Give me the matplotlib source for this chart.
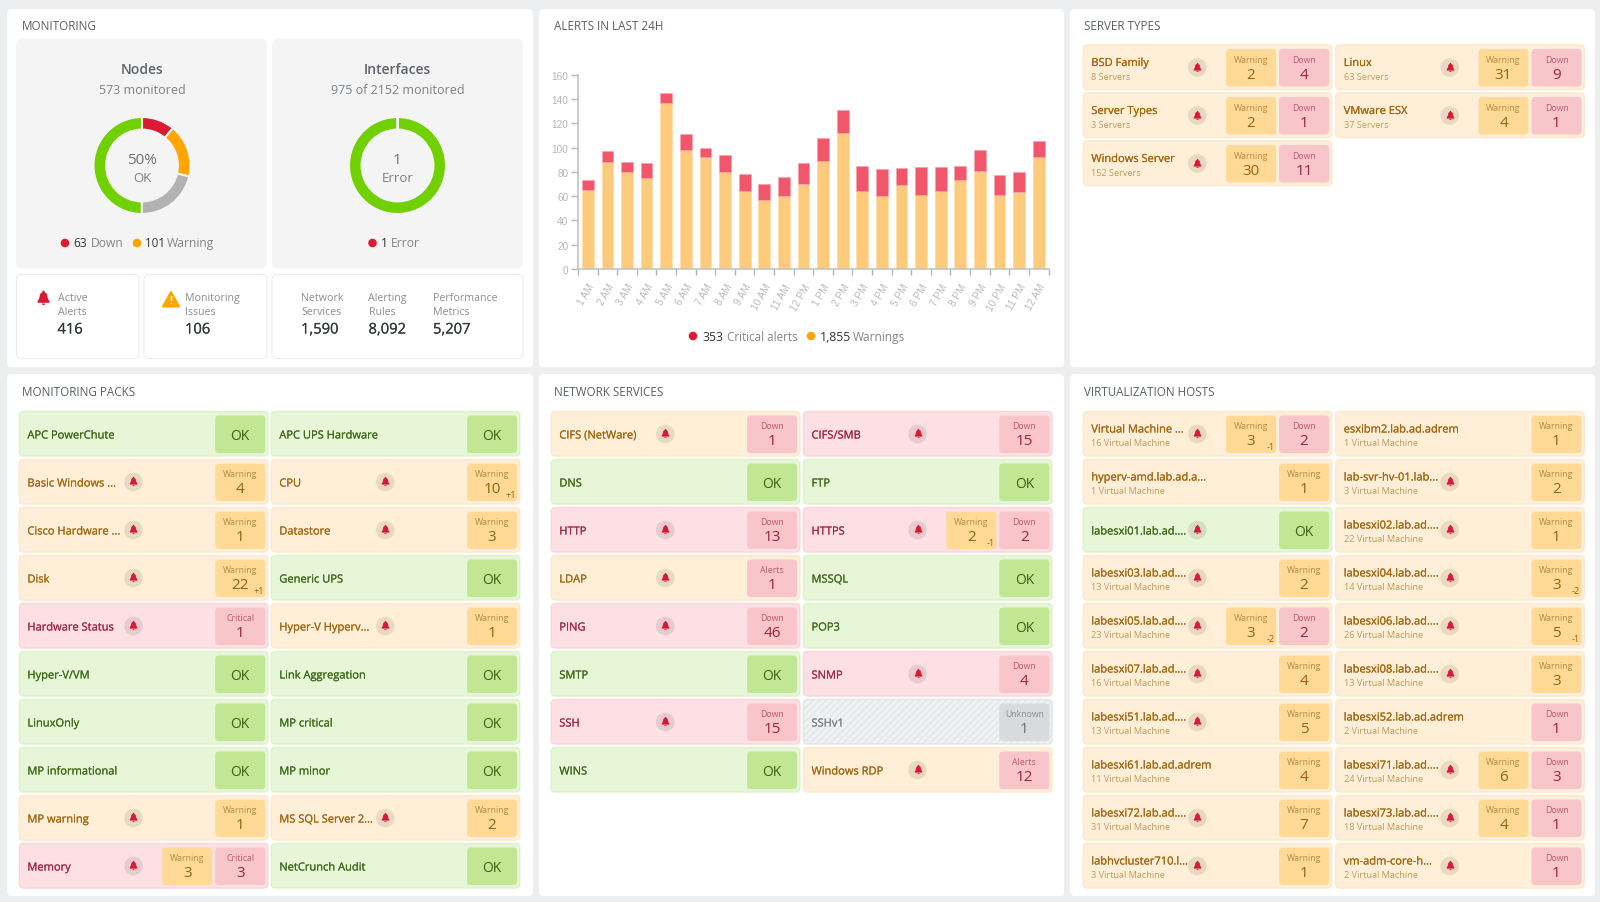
import numpy as np
import matplotlib
matplotlib.use("Agg")
import matplotlib.pyplot as plt
import matplotlib.patheffects as pe
from matplotlib.patches import FancyBboxPatch, Circle, Polygon
from matplotlib.path import Path

plt.rcParams['font.family'] = ['Open Sans', 'DejaVu Sans']
plt.rcParams['hatch.linewidth'] = 0.8

W, H = 1600, 903

# dati grafico allarmi
HOURS = ["1 AM", "2 AM", "3 AM", "4 AM", "5 AM", "6 AM", "7 AM", "8 AM", "9 AM", "10 AM", "11 AM", "12 PM",
         "1 PM", "2 PM", "3 PM", "4 PM", "5 PM", "6 PM", "7 PM", "8 PM", "9 PM", "10 PM", "11 PM", "12 AM"]
WARNINGS = [65, 88, 80, 75, 137, 98, 92, 80, 64, 57, 60, 70, 89, 112, 64, 60, 69, 61, 64, 73, 81, 61, 63, 92]
CRITICAL = [8, 9, 8, 12, 8, 13, 8, 14, 14, 13, 16, 17, 19, 19, 21, 22, 14, 23, 20, 12, 17, 16, 17, 13]

NODE_VALUES = [63, 101, 123, 286]
INTERFACE_VALUES = [1, 974]

SERVER_NAMES = ["BSD Family", "Linux", "Server Types", "VMware ESX", "Windows Server"]
SERVER_COUNTS = ["8 Servers", "63 Servers", "3 Servers", "37 Servers", "152 Servers"]
SERVER_BADGES = [[("Warning", 2, ""), ("Down", 4, "")], [("Warning", 31, ""), ("Down", 9, "")],
                 [("Warning", 2, ""), ("Down", 1, "")], [("Warning", 4, ""), ("Down", 1, "")],
                 [("Warning", 30, ""), ("Down", 11, "")]]

PACK_NAMES = ["APC PowerChute", "APC UPS Hardware", "Basic Windows ...", "CPU", "Cisco Hardware ...", "Datastore",
              "Disk", "Generic UPS", "Hardware Status", "Hyper-V Hyperv...", "Hyper-V/VM", "Link Aggregation",
              "LinuxOnly", "MP critical", "MP informational", "MP minor", "MP warning", "MS SQL Server 2...",
              "Memory", "NetCrunch Audit"]
PACK_STATES = ["ok", "ok", "warn", "warn", "warn", "warn", "warn", "ok", "crit", "warn",
               "ok", "ok", "ok", "ok", "ok", "ok", "warn", "warn", "crit", "ok"]
PACK_BADGES = [[("OK", "", "")], [("OK", "", "")], [("Warning", 4, "")], [("Warning", 10, "+1")],
               [("Warning", 1, "")], [("Warning", 3, "")], [("Warning", 22, "+1")], [("OK", "", "")],
               [("Critical", 1, "")], [("Warning", 1, "")], [("OK", "", "")], [("OK", "", "")],
               [("OK", "", "")], [("OK", "", "")], [("OK", "", "")], [("OK", "", "")],
               [("Warning", 1, "")], [("Warning", 2, "")], [("Warning", 3, ""), ("Critical", 3, "")], [("OK", "", "")]]

NET_NAMES = ["CIFS (NetWare)", "CIFS/SMB", "DNS", "FTP", "HTTP", "HTTPS", "LDAP", "MSSQL", "PING", "POP3",
             "SMTP", "SNMP", "SSH", "SSHv1", "WINS", "Windows RDP"]
NET_STATES = ["warn", "crit", "ok", "ok", "crit", "crit", "warn", "ok", "crit", "ok",
              "ok", "crit", "crit", "unknown", "ok", "warn"]
NET_BADGES = [[("Down", 1, "")], [("Down", 15, "")], [("OK", "", "")], [("OK", "", "")], [("Down", 13, "")],
              [("Warning", 2, "-1"), ("Down", 2, "")], [("Alerts", 1, "")], [("OK", "", "")], [("Down", 46, "")],
              [("OK", "", "")], [("OK", "", "")], [("Down", 4, "")], [("Down", 15, "")], [("Unknown", 1, "")],
              [("OK", "", "")], [("Alerts", 12, "")]]

HOST_NAMES = ["Virtual Machine ...", "esxibm2.lab.ad.adrem", "hyperv-amd.lab.ad.a...", "lab-svr-hv-01.lab...",
              "labesxi01.lab.ad....", "labesxi02.lab.ad....", "labesxi03.lab.ad....", "labesxi04.lab.ad....",
              "labesxi05.lab.ad....", "labesxi06.lab.ad....", "labesxi07.lab.ad....", "labesxi08.lab.ad....",
              "labesxi51.lab.ad....", "labesxi52.lab.ad.adrem", "labesxi61.lab.ad.adrem", "labesxi71.lab.ad....",
              "labesxi72.lab.ad....", "labesxi73.lab.ad....", "labhvcluster710.l...", "vm-adm-core-h..."]
HOST_VMS = [16, 1, 1, 3, None, 22, 13, 14, 23, 26, 16, 13, 13, 2, 11, 24, 31, 18, 3, 2]
HOST_BELLS = [True, False, False, True, True, True, True, True, True, True,
              True, True, True, False, False, True, True, True, True, True]
HOST_BADGES = [[("Warning", 3, "-1"), ("Down", 2, "")], [("Warning", 1, "")], [("Warning", 1, "")], [("Warning", 2, "")],
               [("OK", "", "")], [("Warning", 1, "")], [("Warning", 2, "")], [("Warning", 3, "-2")],
               [("Warning", 3, "-2"), ("Down", 2, "")], [("Warning", 5, "-1")], [("Warning", 4, "")], [("Warning", 3, "")],
               [("Warning", 5, "")], [("Down", 1, "")], [("Warning", 4, "")], [("Warning", 6, ""), ("Down", 3, "")],
               [("Warning", 7, "")], [("Warning", 4, ""), ("Down", 1, "")], [("Warning", 1, "")], [("Down", 1, "")]]

# colori
RED = "#dc1832"
ORANGE = "#ffa500"
GREEN = "#70d000"
CARD_COLORS = {"ok": ("#e8f6d8", "#dff1c9", "#3f6a1b"),
               "warn": ("#ffefd9", "#fde8cd", "#a3670f"),
               "crit": ("#fde0e4", "#fad6db", "#a22a44"),
               "unknown": ("#f0f1f3", "#e2e4e7", "#808285")}
BADGE_COLORS = {"OK": ("#c1e795", "#3c5f14", "#3c5f14"),
                "Warning": ("#ffda96", "#b88a3f", "#9a620e"),
                "Down": ("#f8c5cb", "#c05a6e", "#99263e"),
                "Critical": ("#f8c5cb", "#c05a6e", "#99263e"),
                "Alerts": ("#f8c5cb", "#c05a6e", "#99263e"),
                "Unknown": ("#d9dadb", "#8b8d8f", "#6b6d70")}
SUB_COLOR = "#bf9a5e"

bell_verts = [(0, 0.95), (0.12, 0.85), (0.15, 0.75), (0.36, 0.58), (0.42, 0.2), (0.62, -0.2), (0.62, -0.35),
              (-0.62, -0.35), (-0.62, -0.2), (-0.42, 0.2), (-0.36, 0.58), (-0.15, 0.75), (-0.12, 0.85), (0, 0.95),
              (-0.18, -0.42), (0.18, -0.42), (0.1, -0.58), (-0.1, -0.58), (-0.18, -0.42)]
bell_codes = [Path.MOVETO] + [Path.LINETO] * 12 + [Path.CLOSEPOLY] + [Path.MOVETO] + [Path.LINETO] * 3 + [Path.CLOSEPOLY]
BELL = Path(bell_verts, bell_codes)

fig = plt.figure(figsize=(16, 9.03), dpi=100, facecolor="#eceef0")
ax = fig.add_axes([0, 0, 1, 1])
ax.set_xlim(0, W)
ax.set_ylim(H, 0)
ax.axis("off")


def box(x0, y0, x1, y1, face, edge="none", radius=4, lw=1, **kw):
    ax.add_patch(FancyBboxPatch((x0, y0), x1 - x0, y1 - y0, boxstyle=f"round,pad=0,rounding_size={radius}",
                                fc=face, ec=edge, lw=lw, **kw))


def txt(x, y, s, size=8, color="#555555", ha="left", weight="normal", thick=0):
    # va center mette il testo un po' troppo in alto
    t = ax.text(x, y + 1.5, s, fontsize=size, color=color, ha=ha, va="center", fontweight=weight)
    if thick:
        # peso medio non disponibile, lo simulo con un tratto sottile
        t.set_path_effects([pe.withStroke(linewidth=thick, foreground=color)])


def inset(x0, y0, x1, y1):
    return fig.add_axes([x0 / W, 1 - y1 / H, (x1 - x0) / W, (y1 - y0) / H])


def draw_bell(x, y, size=69):
    ax.scatter([x], [y], marker=BELL, s=size, color=RED, linewidths=0, zorder=5)


def draw_badges(x1, y0, y1, badges):
    bw = 50
    for i, (label, value, delta) in enumerate(reversed(badges)):
        right = x1 - i * (bw + 3)
        left = right - bw
        face, lab_col, val_col = BADGE_COLORS[label]
        box(left, y0, right, y1, face, radius=3.5)
        cx = (left + right) / 2
        if label == "OK":
            txt(cx, (y0 + y1) / 2 - 0.5, "OK", 10, val_col, "center")
            continue
        txt(cx, y0 + 9, label, 6.3, lab_col, "center")
        txt(cx, y0 + 24, str(value), 11, val_col, "center")
        if delta:
            txt(right - 1.5, y0 + 29.5, delta, 6.6, val_col, "right")


def draw_tile(x, y, name, state, badges, sub=None, bell=True):
    w, h = 248.5, 44.5
    face, edge, col = CARD_COLORS[state]
    box(x, y, x + w, y + h, face, edge, radius=4)
    if state == "unknown":
        box(x, y, x + w, y + h, "none", "#e3e5e8", radius=4, lw=0, hatch="/////")
    draw_badges(x + w - 2.7, y + 4, y + 41.5, badges)
    if sub:
        txt(x + 8, y + 17, name, 8, col, thick=0.12)
        txt(x + 8, y + 30, sub, 6.6, SUB_COLOR)
    else:
        txt(x + 8, y + 23, name, 8, col, thick=0.12)
    if bell:
        ax.add_patch(Circle((x + 114, y + 22.5), 9.3, fc="#000000", ec="none", alpha=0.09))
        draw_bell(x + 114, y + 22.5)


# pannelli bianchi
for x0, y0, x1, y1, title in [(7, 10, 533, 368.3, "MONITORING"), (539, 10, 1064, 368.3, "ALERTS IN LAST 24H"),
                              (1070, 10, 1595, 368.3, "SERVER TYPES"), (7, 375, 533, 897, "MONITORING PACKS"),
                              (539, 375, 1064, 897, "NETWORK SERVICES"), (1070, 375, 1595, 897, "VIRTUALIZATION HOSTS")]:
    box(x0, y0, x1, y1, "white", radius=5)
    txt(x0 + 14.5, y0 + 15 + (y0 > 100), title, 8.35, "#5a5f64")

# Monitoring
box(16, 39.5, 267, 269.5, "#f4f4f4", radius=6)
box(272, 39.5, 523, 269.5, "#f4f4f4", radius=6)
for x0, x1 in [(16.5, 139), (144, 267), (272, 523)]:
    box(x0, 275.5, x1, 359.5, "white", "#ececec", radius=5, lw=0.8)

for cx, head, sub, big, small in [(142, "Nodes", "573 monitored", "50%", "OK"),
                                  (397.5, "Interfaces", "975 of 2152 monitored", "1", "Error")]:
    txt(cx, 68.5, head, 10, "#5d6369", "center", "semibold")
    txt(cx, 89, sub, 9, "#7b8187", "center")
    txt(cx, 159.5, big, 11, "#6d7278", "center")
    txt(cx, 176.5, small, 9.5, "#7b8187", "center")

ax_nodes = inset(142 - 48.5, 166.5 - 48.5, 142 + 48.5, 166.5 + 48.5)
ax_nodes.pie(NODE_VALUES, colors=[RED, ORANGE, "#b2b2b2", GREEN], startangle=90, counterclock=False,
             radius=1, wedgeprops=dict(width=0.26, edgecolor="#f4f4f4", linewidth=1.5))
ax_nodes.set_xlim(-1, 1)
ax_nodes.set_ylim(-1, 1)

ax_ifaces = inset(397.5 - 48.5, 166.5 - 48.5, 397.5 + 48.5, 166.5 + 48.5)
ax_ifaces.pie(INTERFACE_VALUES, colors=[RED, GREEN], startangle=90, counterclock=False,
              radius=1, wedgeprops=dict(width=0.26, edgecolor="#f4f4f4", linewidth=1.5))
ax_ifaces.set_xlim(-1, 1)
ax_ifaces.set_ylim(-1, 1)

ax.scatter([65, 137, 372.5], [244, 244, 244], s=38, c=[RED, ORANGE, RED], linewidths=0)
txt(73.5, 242.5, "63", 8.7, "#333333")
txt(90.5, 242.5, "Down", 8.7, "#80858a")
txt(145.5, 242.5, "101", 8.4, "#333333")
txt(167, 242.5, "Warning", 8.7, "#80858a")
txt(381, 242.5, "1", 8.7, "#333333")
txt(390.5, 242.5, "Error", 8.7, "#80858a")

draw_bell(43, 300, 170)
ax.add_patch(Polygon([(171, 293), (179, 307.5), (163, 307.5)], closed=True, fc=ORANGE, ec=ORANGE, lw=1.5, joinstyle="round"))
ax.text(171, 302, "!", fontsize=7.5, color="white", ha="center", va="center", fontweight="bold")
for x, l1, l2, val in [(57.5, "Active", "Alerts", "416"), (185, "Monitoring", "Issues", "106"),
                       (301, "Network", "Services", "1,590"), (368.5, "Alerting", "Rules", "8,092"),
                       (433, "Performance", "Metrics", "5,207")]:
    txt(x, 297.5, l1, 7.7, "#898e93")
    txt(x, 311.5, l2, 7.7, "#898e93")
    txt(x, 329.5, val, 10.6, "#33373b", thick=0.12)

# grafico allarmi
ax_bar = inset(578, 75.7, 1048.5, 270)
pos = np.arange(len(HOURS))
ax_bar.bar(pos, WARNINGS, width=0.6, color="#fdcb7b", edgecolor="#fee0ac", linewidth=0.6)
ax_bar.bar(pos, CRITICAL, width=0.6, bottom=WARNINGS, color="#f2566a", edgecolor="#f8a5b0", linewidth=0.6)
ax_bar.set_xlim(-0.5, len(HOURS) - 0.5)
ax_bar.set_ylim(0, 160)
ax_bar.set_yticks(np.arange(0, 161, 20))
ax_bar.set_xticks(np.arange(len(HOURS) + 1) - 0.5)
ax_bar.set_xticklabels([])
ax_bar.set_xticks(pos, minor=True)
ax_bar.set_xticklabels(HOURS, minor=True, rotation=60, ha="right", rotation_mode="anchor", fontsize=7.2,
                       color="#bababa", fontfamily="Liberation Sans")
ax_bar.tick_params(axis="x", which="minor", length=0, pad=9)
ax_bar.tick_params(axis="x", which="major", length=4, color="#b5b5b5", width=1)
ax_bar.tick_params(axis="y", length=5, color="#b5b5b5", width=1, labelsize=7.2, labelcolor="#b5b5b5", pad=2)
for lab in ax_bar.get_yticklabels():
    lab.set_fontfamily("Liberation Sans")
for side in ["top", "right"]:
    ax_bar.spines[side].set_visible(False)
for side in ["left", "bottom"]:
    ax_bar.spines[side].set_color("#c4c4c4")
    ax_bar.spines[side].set_linewidth(1.2)
ax_bar.patch.set_alpha(0)

ax.scatter([693, 811], [337, 337], s=38, c=[RED, ORANGE], linewidths=0)
txt(702, 336, "353", 8.8, "#333333")
txt(727, 336, "Critical alerts", 8.4, "#80858a")
txt(820, 336, "1,855", 8.8, "#333333")
txt(853, 336, "Warnings", 8.6, "#80858a")

# griglie di card
for i, name in enumerate(SERVER_NAMES):
    x = [1083.3, 1335.7][i % 2]
    draw_tile(x, 46 + (i // 2) * 48, name, "warn", SERVER_BADGES[i], sub=SERVER_COUNTS[i])

for i, name in enumerate(PACK_NAMES):
    x = [19.4, 271.3][i % 2]
    draw_tile(x, 412.5 + (i // 2) * 48, name, PACK_STATES[i], PACK_BADGES[i], bell=PACK_STATES[i] != "ok")

for i, name in enumerate(NET_NAMES):
    x = [551.3, 803.5][i % 2]
    draw_tile(x, 412.5 + (i // 2) * 48, name, NET_STATES[i], NET_BADGES[i], bell=NET_STATES[i] in ("warn", "crit"))

for i, name in enumerate(HOST_NAMES):
    x = [1083.3, 1335.7][i % 2]
    state = "ok" if HOST_VMS[i] is None else "warn"
    sub = None if HOST_VMS[i] is None else f"{HOST_VMS[i]} Virtual Machine"
    draw_tile(x, 412.5 + (i // 2) * 48, name, state, HOST_BADGES[i], sub=sub, bell=HOST_BELLS[i])

fig.savefig("out.png", dpi=100)
